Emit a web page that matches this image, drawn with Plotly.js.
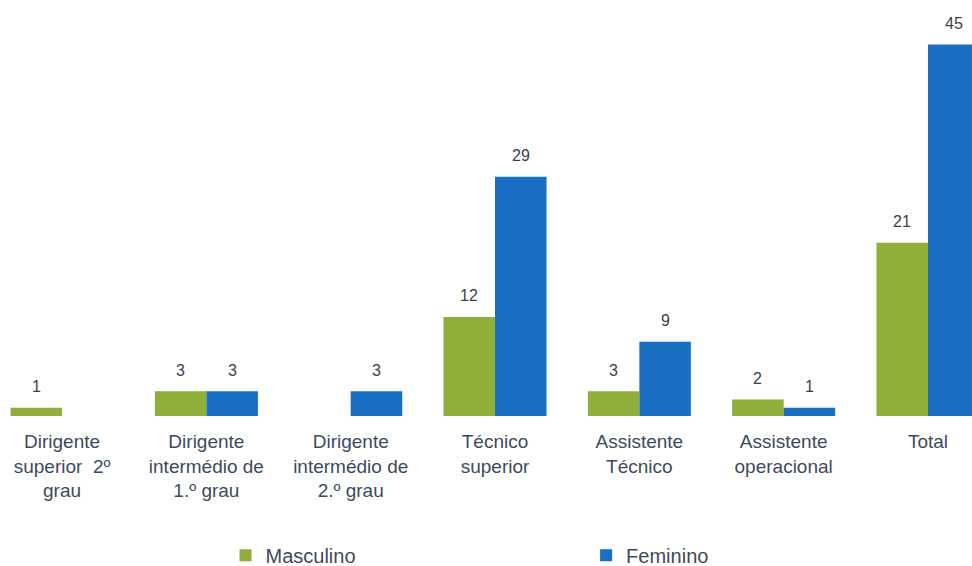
<!DOCTYPE html>
<html>
<head>
<meta charset="utf-8">
<script src="https://cdn.plot.ly/plotly-3.0.1.min.js"></script>
<style>html,body{margin:0;padding:0;background:#fff;}#chart{width:972px;height:566px;}</style>
</head>
<body>
<div id="chart"></div>
<script>
const categories = [
  "Dirigente<br>superior  2º<br>grau",
  "Dirigente<br>intermédio de<br>1.º grau",
  "Dirigente<br>intermédio de<br>2.º grau",
  "Técnico<br>superior",
  "Assistente<br>Técnico",
  "Assistente<br>operacional",
  "Total"
];
const masculino = [1, 3, 0, 12, 3, 2, 21];
const feminino  = [0, 3, 3, 29, 9, 1, 45];
const seriesNames = ["Masculino", "Feminino"];
const colors = ["#8fae3a", "#1a6ec4"];

const bargap = 0.286;
const half = (1 - bargap) / 4;

const idx = categories.map((_, i) => i);

const traces = [masculino, feminino].map((vals, k) => ({
  type: "bar",
  name: seriesNames[k],
  legend: k === 0 ? "legend" : "legend2",
  x: idx,
  y: vals,
  marker: { color: colors[k] },
  hoverinfo: "skip"
}));

const annotations = [];
[masculino, feminino].forEach((vals, k) => {
  vals.forEach((v, i) => {
    if (v > 0) {
      annotations.push({
        x: i + (k === 0 ? -half : half),
        y: v,
        xref: "x", yref: "y",
        text: String(v),
        showarrow: false,
        yanchor: "middle",
        yshift: 21,
        font: { family: "Liberation Sans, Arial, sans-serif", size: 16, color: "#3a3f47" }
      });
    }
  });
});

const legendFont = { family: "Liberation Sans, Arial, sans-serif", size: 20, color: "#3d4a5c" };

const layout = {
  width: 972,
  height: 566,
  margin: { l: 0, r: 0, t: 0, b: 150, autoexpand: false },
  paper_bgcolor: "#ffffff",
  plot_bgcolor: "#ffffff",
  barmode: "group",
  bargap: bargap,
  bargroupgap: 0,
  showlegend: true,
  xaxis: {
    type: "linear",
    range: [-0.43, 6.305],
    tickmode: "array",
    tickvals: idx,
    ticktext: categories,
    showgrid: false,
    zeroline: false,
    showline: false,
    ticks: "",
    ticklabelstandoff: 12,
    tickfont: { family: "Liberation Sans, Arial, sans-serif", size: 19, color: "#3d4a5c" }
  },
  yaxis: {
    range: [0, 50.4],
    visible: false,
    showgrid: false,
    zeroline: false
  },
  legend: {
    orientation: "h",
    x: 0.232, xanchor: "left",
    y: -0.335, yanchor: "middle",
    font: legendFont
  },
  legend2: {
    orientation: "h",
    x: 0.603, xanchor: "left",
    y: -0.335, yanchor: "middle",
    font: legendFont
  },
  annotations: annotations
};

Plotly.newPlot("chart", traces, layout, { displayModeBar: false, staticPlot: true });
</script>
</body>
</html>
